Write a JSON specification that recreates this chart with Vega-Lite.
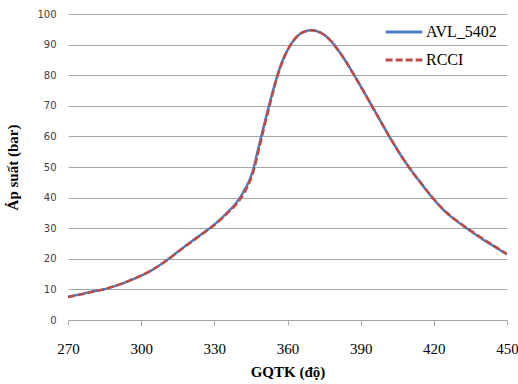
{
  "$schema": "https://vega.github.io/schema/vega-lite/v6.json",
  "autosize": "none",
  "width": 439,
  "height": 306,
  "padding": {"left": 68, "top": 14, "right": 11, "bottom": 64},
  "background": "white",
  "config": {"view": {"stroke": null}},
  "datasets": {
    "curves": [
      {"deg": 270, "p": 7.6, "s": "AVL_5402"}, {"deg": 275, "p": 8.4, "s": "AVL_5402"}, {"deg": 280, "p": 9.3, "s": "AVL_5402"}, {"deg": 285, "p": 10.1, "s": "AVL_5402"}, {"deg": 290, "p": 11.3, "s": "AVL_5402"}, {"deg": 295, "p": 12.8, "s": "AVL_5402"}, {"deg": 300, "p": 14.5, "s": "AVL_5402"}, {"deg": 305, "p": 16.6, "s": "AVL_5402"}, {"deg": 310, "p": 19.3, "s": "AVL_5402"}, {"deg": 315, "p": 22.3, "s": "AVL_5402"}, {"deg": 320, "p": 25.3, "s": "AVL_5402"}, {"deg": 325, "p": 28.2, "s": "AVL_5402"}, {"deg": 330, "p": 31.2, "s": "AVL_5402"}, {"deg": 335, "p": 34.9, "s": "AVL_5402"}, {"deg": 340, "p": 39.4, "s": "AVL_5402"}, {"deg": 342, "p": 42, "s": "AVL_5402"}, {"deg": 344, "p": 45, "s": "AVL_5402"}, {"deg": 346, "p": 49.5, "s": "AVL_5402"}, {"deg": 348, "p": 56, "s": "AVL_5402"}, {"deg": 350, "p": 62.5, "s": "AVL_5402"}, {"deg": 352, "p": 68.8, "s": "AVL_5402"}, {"deg": 354, "p": 74.8, "s": "AVL_5402"}, {"deg": 356, "p": 80.3, "s": "AVL_5402"}, {"deg": 358, "p": 84.8, "s": "AVL_5402"}, {"deg": 360, "p": 88.2, "s": "AVL_5402"}, {"deg": 362, "p": 90.8, "s": "AVL_5402"}, {"deg": 364, "p": 92.7, "s": "AVL_5402"}, {"deg": 366, "p": 93.9, "s": "AVL_5402"}, {"deg": 368, "p": 94.5, "s": "AVL_5402"}, {"deg": 370, "p": 94.7, "s": "AVL_5402"}, {"deg": 372, "p": 94.4, "s": "AVL_5402"}, {"deg": 374, "p": 93.7, "s": "AVL_5402"}, {"deg": 376, "p": 92.6, "s": "AVL_5402"}, {"deg": 378, "p": 91.0, "s": "AVL_5402"}, {"deg": 380, "p": 89.0, "s": "AVL_5402"}, {"deg": 382, "p": 86.8, "s": "AVL_5402"}, {"deg": 384, "p": 84.4, "s": "AVL_5402"}, {"deg": 386, "p": 81.8, "s": "AVL_5402"}, {"deg": 388, "p": 79.1, "s": "AVL_5402"}, {"deg": 390, "p": 76.4, "s": "AVL_5402"}, {"deg": 392, "p": 73.6, "s": "AVL_5402"}, {"deg": 394, "p": 70.8, "s": "AVL_5402"}, {"deg": 396, "p": 68.0, "s": "AVL_5402"}, {"deg": 398, "p": 65.2, "s": "AVL_5402"}, {"deg": 400, "p": 62.4, "s": "AVL_5402"}, {"deg": 402, "p": 59.6, "s": "AVL_5402"}, {"deg": 404, "p": 57.0, "s": "AVL_5402"}, {"deg": 406, "p": 54.4, "s": "AVL_5402"}, {"deg": 408, "p": 52.0, "s": "AVL_5402"}, {"deg": 410, "p": 49.7, "s": "AVL_5402"}, {"deg": 415, "p": 44.4, "s": "AVL_5402"}, {"deg": 420, "p": 39.4, "s": "AVL_5402"}, {"deg": 425, "p": 35.2, "s": "AVL_5402"}, {"deg": 430, "p": 32.0, "s": "AVL_5402"}, {"deg": 435, "p": 29.1, "s": "AVL_5402"}, {"deg": 440, "p": 26.4, "s": "AVL_5402"}, {"deg": 445, "p": 23.9, "s": "AVL_5402"}, {"deg": 450, "p": 21.4, "s": "AVL_5402"},
      {"deg": 270, "p": 7.5, "s": "RCCI"}, {"deg": 275, "p": 8.3, "s": "RCCI"}, {"deg": 280, "p": 9.2, "s": "RCCI"}, {"deg": 285, "p": 10.1, "s": "RCCI"}, {"deg": 290, "p": 11.3, "s": "RCCI"}, {"deg": 295, "p": 12.8, "s": "RCCI"}, {"deg": 300, "p": 14.5, "s": "RCCI"}, {"deg": 305, "p": 16.6, "s": "RCCI"}, {"deg": 310, "p": 19.2, "s": "RCCI"}, {"deg": 315, "p": 22.2, "s": "RCCI"}, {"deg": 320, "p": 25.2, "s": "RCCI"}, {"deg": 325, "p": 28.1, "s": "RCCI"}, {"deg": 330, "p": 31.0, "s": "RCCI"}, {"deg": 335, "p": 34.6, "s": "RCCI"}, {"deg": 340, "p": 38.8, "s": "RCCI"}, {"deg": 342, "p": 41.2, "s": "RCCI"}, {"deg": 344, "p": 44.2, "s": "RCCI"}, {"deg": 346, "p": 48.5, "s": "RCCI"}, {"deg": 348, "p": 54.8, "s": "RCCI"}, {"deg": 350, "p": 61.5, "s": "RCCI"}, {"deg": 352, "p": 68, "s": "RCCI"}, {"deg": 354, "p": 74.2, "s": "RCCI"}, {"deg": 356, "p": 80, "s": "RCCI"}, {"deg": 358, "p": 84.6, "s": "RCCI"}, {"deg": 360, "p": 88.1, "s": "RCCI"}, {"deg": 362, "p": 90.8, "s": "RCCI"}, {"deg": 364, "p": 92.7, "s": "RCCI"}, {"deg": 366, "p": 93.9, "s": "RCCI"}, {"deg": 368, "p": 94.5, "s": "RCCI"}, {"deg": 370, "p": 94.7, "s": "RCCI"}, {"deg": 372, "p": 94.4, "s": "RCCI"}, {"deg": 374, "p": 93.7, "s": "RCCI"}, {"deg": 376, "p": 92.6, "s": "RCCI"}, {"deg": 378, "p": 91.0, "s": "RCCI"}, {"deg": 380, "p": 89.0, "s": "RCCI"}, {"deg": 382, "p": 86.8, "s": "RCCI"}, {"deg": 384, "p": 84.4, "s": "RCCI"}, {"deg": 386, "p": 81.8, "s": "RCCI"}, {"deg": 388, "p": 79.1, "s": "RCCI"}, {"deg": 390, "p": 76.4, "s": "RCCI"}, {"deg": 392, "p": 73.6, "s": "RCCI"}, {"deg": 394, "p": 70.8, "s": "RCCI"}, {"deg": 396, "p": 68.0, "s": "RCCI"}, {"deg": 398, "p": 65.2, "s": "RCCI"}, {"deg": 400, "p": 62.4, "s": "RCCI"}, {"deg": 402, "p": 59.6, "s": "RCCI"}, {"deg": 404, "p": 57.0, "s": "RCCI"}, {"deg": 406, "p": 54.4, "s": "RCCI"}, {"deg": 408, "p": 52.0, "s": "RCCI"}, {"deg": 410, "p": 49.7, "s": "RCCI"}, {"deg": 415, "p": 44.5, "s": "RCCI"}, {"deg": 420, "p": 39.5, "s": "RCCI"}, {"deg": 425, "p": 35.3, "s": "RCCI"}, {"deg": 430, "p": 32.1, "s": "RCCI"}, {"deg": 435, "p": 29.3, "s": "RCCI"}, {"deg": 440, "p": 26.6, "s": "RCCI"}, {"deg": 445, "p": 24.1, "s": "RCCI"}, {"deg": 450, "p": 21.6, "s": "RCCI"}
    ]
  },
  "layer": [
    {
      "mark": {"type": "rule", "color": "#a6a6a6", "strokeWidth": 1},
      "encoding": {"x": {"datum": 360, "type": "quantitative", "scale": {"domain": [270, 450]}}}
    },
    {
      "data": {"name": "curves"},
      "mark": {"type": "line", "strokeWidth": 2.5, "interpolate": "monotone", "clip": true},
      "encoding": {
        "x": {
          "field": "deg", "type": "quantitative",
          "scale": {"domain": [270, 450], "nice": false, "zero": false},
          "axis": {
            "values": [270, 300, 330, 360, 390, 420, 450],
            "title": "GQTK (độ)",
            "titleFont": "Liberation Serif", "titleFontSize": 15, "titleFontWeight": "bold", "titleColor": "#000000", "titlePadding": 8,
            "labelFont": "Liberation Serif", "labelFontSize": 15, "labelColor": "#000000", "labelPadding": 16,
            "labelFlush": false,
            "grid": false, "domainColor": "#a6a6a6", "tickColor": "#a6a6a6", "tickSize": 5
          }
        },
        "y": {
          "field": "p", "type": "quantitative",
          "scale": {"domain": [0, 100], "nice": false},
          "axis": {
            "values": [0, 10, 20, 30, 40, 50, 60, 70, 80, 90, 100],
            "title": "Áp suất (bar)",
            "titleFont": "Liberation Serif", "titleFontSize": 15, "titleFontWeight": "bold", "titleColor": "#000000", "titlePadding": 16,
            "labelFont": "DejaVu Sans", "labelFontSize": 10, "labelColor": "#404040", "labelPadding": 12,
            "grid": true, "gridColor": "#a6a6a6", "gridWidth": 1, "gridOpacity": 1,
            "domain": false, "ticks": false
          }
        },
        "color": {
          "field": "s", "type": "nominal",
          "scale": {"domain": ["AVL_5402", "RCCI"], "range": ["#4a7ebb", "#be4b48"]},
          "legend": {
            "title": null, "orient": "none", "legendX": 316, "legendY": -2,
            "symbolType": "stroke", "symbolSize": 1350, "symbolStrokeWidth": 3,
            "labelFont": "Liberation Serif", "labelFontSize": 16, "labelColor": "#000000",
            "rowPadding": -9, "labelOffset": 2
          }
        },
        "strokeDash": {
          "field": "s", "type": "nominal",
          "scale": {"domain": ["AVL_5402", "RCCI"], "range": [[1, 0], [7, 3]]},
          "legend": null
        }
      }
    }
  ]
}
